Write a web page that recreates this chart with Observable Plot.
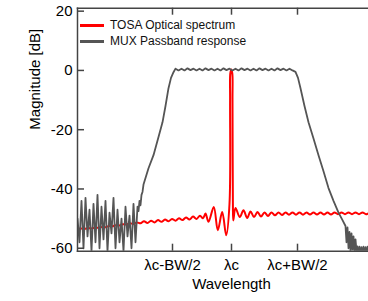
<!DOCTYPE html>
<html><head><meta charset="utf-8">
<script src="https://cdn.jsdelivr.net/npm/d3@7"></script>
<script src="https://cdn.jsdelivr.net/npm/@observablehq/plot@0.6"></script>
<style>
body{margin:0;background:#fff;font-family:"Liberation Sans",Arial,sans-serif;}
#wrap{position:relative;width:368px;height:301px;overflow:hidden;}
#legend{position:absolute;left:80px;top:17px;font-family:"Liberation Sans",Arial,sans-serif;font-size:12px;color:#111;}
.row{display:flex;align-items:center;height:16px;white-space:nowrap;}
.sw{width:24px;height:3px;margin-right:6px;}
</style></head><body><div id="wrap"><div id="legend"></div></div>
<script>
const seriesNames = ["TOSA Optical spectrum", "MUX Passband response"];
const seriesColors = ["#ff0000", "#555555"];
const xTickValues = [-59, 0, 66];
const xTickLabels = ["λc-BW/2", "λc", "λc+BW/2"];
const yTickValues = [-60, -40, -20, 0, 20];
const xLabel = "Wavelength";
const yLabel = "Magnitude [dB]";

const tosaX = [-154,-150.5,-147,-143.5,-140,-136.5,-133,-129.5,-126,-122.5,-119,-115.5,-112,-108.5,-105,-101.5,-98,-94.5,-91,-87.5,-84,-80.5,-77,-73.5,-70,-66.5,-63,-59.5,-56,-52.5,-49,-45.5,-42,-38.5,-35,-31.5,-28.5,-26,-23,-17.7,-13.7,-9.3,-5.3,-2.0,-1.4,-1.2,-0.2,0.8,1.0,1.4,1.8,4,8.3,12,15.7,19,22.5,26,29.5,33,36.5,40,43.5,47,50.5,54,57.5,61,64.5,68,71.5,75,78.5,82,85.5,89,92.5,96,99.5,103,106.5,110,113.5,117,120.5,124,127.5,131,134.5,138];
const tosaY = [-53.6,-53.3,-53.5,-53.2,-53.3,-53.0,-53.1,-52.8,-52.9,-52.5,-52.6,-52.2,-52.3,-51.9,-52.0,-51.6,-51.8,-51.3,-51.6,-50.9,-51.5,-50.7,-51.3,-50.5,-51.1,-50.3,-50.9,-50.1,-50.7,-49.9,-50.5,-49.6,-50.3,-49.3,-50.1,-49.0,-49.9,-48.3,-51.1,-46.1,-53.9,-47.8,-55.6,-45,-10,-1,0.3,-1,-10,-45,-50.6,-46.4,-49.5,-47.2,-49.8,-47.6,-49.5,-47.8,-49.3,-47.9,-49.1,-47.9,-48.9,-47.9,-48.8,-47.9,-48.7,-47.9,-48.7,-47.9,-48.7,-47.9,-48.6,-47.9,-48.6,-47.9,-48.6,-47.9,-48.6,-47.9,-48.5,-47.9,-48.5,-47.9,-48.5,-47.9,-48.5,-47.9,-48.5,-48.0];

const muxX = [-154,-152,-150,-148,-146,-144,-142,-140,-138,-136,-134,-132,-130,-128,-126,-124,-122,-120,-118,-116,-114,-112,-110,-108,-106,-104,-102,-100,-98,-96,-94,-93,-92,-91,-90,-89,
  -88,-83,-78,-73,-69,-66,-63,-60.5,-58,
  -56,-53,-50,-47,-44,-41,-38,-35,-32,-29,-26,-23,-20,-17,-14,-11,-8,-5,-2,1,4,7,10,13,16,19,22,25,28,31,34,37,40,43,46,49,52,55,58,61,
  64,66.5,69,73,77,82,87,92,97,102,107,111,114,
  115,116,117,118,119,120,121,122,123,124,125,126,127,128,129,130,131,132,133,134,135,136,137,138];
const muxY = [-50,-58,-44,-60,-43,-56,-47,-61,-45,-58,-42,-60,-46,-57,-44,-61,-48,-55,-43,-60,-47,-58,-50,-61,-46,-56,-49,-60,-45,-58,-46,-47.5,-44,-45.5,-42,-41,
  -38.5,-33,-28.6,-22.5,-17.5,-12,-6,-2.5,-0.6,
  0.6,0.0,0.6,0.0,0.7,0.1,0.6,0.0,0.6,0.0,0.7,0.1,0.6,0.0,0.6,0.0,0.7,0.1,0.6,0.0,0.6,0.0,0.7,0.1,0.6,0.0,0.6,0.0,0.7,0.1,0.6,0.0,0.6,0.0,0.7,0.1,0.6,0.0,0.6,0.0,
  -0.5,-2.5,-6,-12,-17.5,-23,-28.6,-34,-39.7,-44,-48,-50.5,-52.5,
  -58,-53,-60,-54.5,-61,-55,-60.5,-56,-61,-57,-61,-59.4,-63,-59.5,-63,-59.6,-63,-59.5,-63,-59.6,-63,-59.5,-63,-59.6];

const tosa = tosaX.map((x, i) => ({x, y: tosaY[i]}));
const mux = muxX.map((x, i) => ({x, y: muxY[i]}));

const W = 368, H = 301, mL = 77, mR = 0, mT = 7.7, mB = 50.3;
const plotW = W - mL - mR, plotH = H - mT - mB;
const frameColor = "#444";

const chart = Plot.plot({
  width: W, height: H,
  marginLeft: mL, marginRight: mR, marginTop: mT, marginBottom: mB,
  style: {fontFamily: "'Liberation Sans', Arial, sans-serif", fontSize: "15px", color: "#000", background: "#fff"},
  x: {domain: [-154, 137], axis: null},
  y: {domain: [-61, 21], axis: null},
  marks: [
    Plot.line(tosa, {x: "x", y: "y", stroke: seriesColors[0], strokeWidth: 2, curve: "catmull-rom", clip: true}),
    Plot.line(mux, {x: "x", y: "y", stroke: seriesColors[1], strokeWidth: 1.8, clip: true}),
    Plot.frame({anchor: "left", stroke: frameColor, strokeWidth: 1.5}),
    Plot.frame({anchor: "top", stroke: frameColor, strokeWidth: 1.5}),
    Plot.frame({anchor: "bottom", stroke: frameColor, strokeWidth: 1.5}),
    Plot.tickY(yTickValues, {y: d => d, insetRight: plotW - 7, stroke: frameColor, strokeWidth: 1.5}),
    Plot.tickX(xTickValues, {x: d => d, insetTop: plotH - 7, stroke: frameColor, strokeWidth: 1.5}),
    Plot.tickX(xTickValues, {x: d => d, insetBottom: plotH - 7, stroke: frameColor, strokeWidth: 1.5}),
    Plot.axisY(yTickValues, {tickSize: 0, tickPadding: 5, tickFormat: d => String(d), fontSize: 15, label: null}),
    Plot.axisX(xTickValues, {tickSize: 0, tickPadding: 8, tickFormat: d => xTickLabels[xTickValues.indexOf(d)], fontSize: 15, label: null}),
    Plot.text([yLabel], {frameAnchor: "left", rotate: -90, dx: -42, fontSize: 15}),
    Plot.text([xLabel], {frameAnchor: "bottom", dy: 38, dx: 8.5, fontSize: 15})
  ]
});
document.getElementById("wrap").prepend(chart);
const lg = document.getElementById("legend");
seriesNames.forEach((n, i) => {
  const r = document.createElement("div"); r.className = "row";
  const s = document.createElement("span"); s.className = "sw"; s.style.background = seriesColors[i];
  const t = document.createElement("span"); t.textContent = n;
  r.append(s, t); lg.append(r);
});
</script></body></html>
